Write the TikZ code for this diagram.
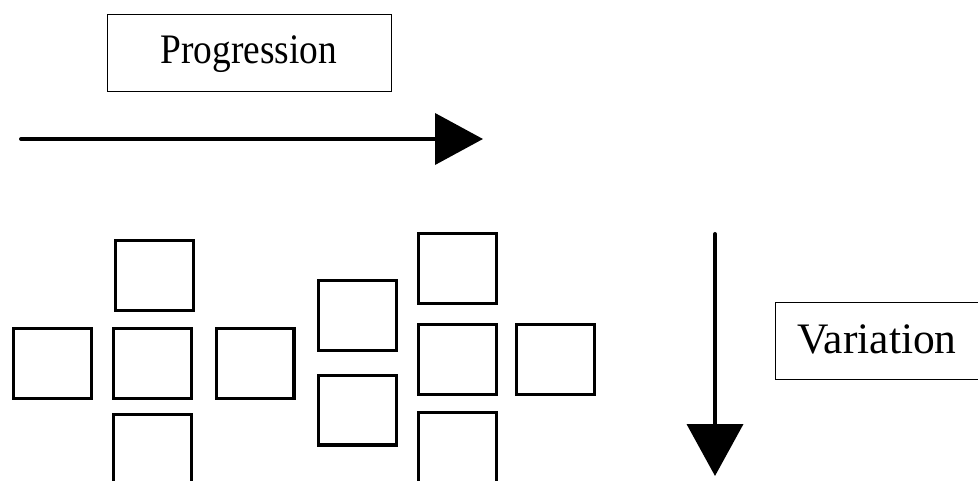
\documentclass[tikz,border=0pt]{standalone}
\usepackage{fontspec}
\setmainfont{Liberation Serif}
\usetikzlibrary{arrows.meta}
\begin{document}
\begin{tikzpicture}[x=1pt,y=-1pt,
  sq/.style={draw, line width=3.3pt, minimum width=77.7pt, minimum height=69.7pt, inner sep=0pt, outer sep=0pt},
  lblbox/.style={draw, line width=1.3pt, inner sep=0pt, outer sep=0pt},
  bigarrow/.style={line width=4pt, line cap=round}]
\clip (0,0) rectangle (978,481);
\fill[white] (0,0) rectangle (978,481);
% Progression label and arrow
\node[lblbox, minimum width=283.7pt, minimum height=76.7pt] (prog) at (249.5,53) {};
\node[anchor=base, inner sep=0pt, font=\fontsize{42}{50}\selectfont] (progtxt) at (249,64) {\scalebox{0.89}[1]{Progression}};
\coordinate (ps) at (21,139);
\coordinate (pe) at (483,139);
\draw[bigarrow, -{Triangle[length=48pt,width=51pt]}] (ps) -- (pe);
% left cluster
\node[sq] (t1) at (154.5,275.5) {};
\node[sq] (l1) at (52.5,363.5) {};
\node[sq] (c1) at (152.5,363.5) {};
\node[sq] (r1) at (255,363.5) {};
\node[sq] (b1) at (152.5,449.5) {};
% right cluster
\node[sq] (a2) at (357.5,315.5) {};
\node[sq] (d2) at (357.5,410) {};
\node[sq] (t2) at (457.5,268.5) {};
\node[sq] (c2) at (457.5,359.5) {};
\node[sq] (r2) at (555.5,359.5) {};
\node[sq] (b2) at (457.5,447.5) {};
% Variation arrow and label
\coordinate (vs) at (715,234);
\coordinate (ve) at (715,476);
\draw[bigarrow, -{Triangle[length=52pt,width=56pt]}] (vs) -- (ve);
\node[lblbox, minimum width=240pt, minimum height=76.7pt, anchor=west] (varbox) at (775.65,341) {};
\node[anchor=base west, inner sep=0pt, font=\fontsize{43.5}{52}\selectfont] (var) at (797,353) {Variation};
\end{tikzpicture}
\end{document}
